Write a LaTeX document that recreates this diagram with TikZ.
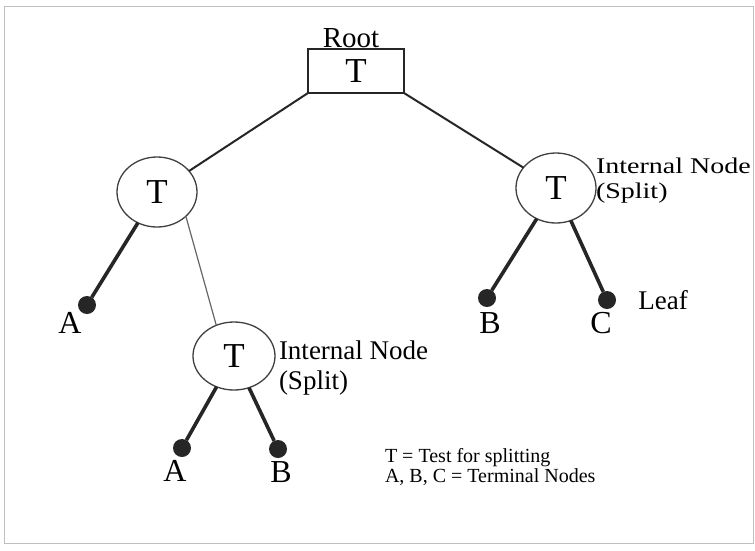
\documentclass[tikz,border=0pt]{standalone}
\usepackage{fontspec}
\usepackage{graphicx}
\setmainfont{Liberation Serif}
\usetikzlibrary{shapes.geometric}
\begin{document}
\begin{tikzpicture}[x=1pt,y=-1pt,
  every node/.style={inner sep=0pt, outer sep=0pt},
  testnode/.style={ellipse, draw=black!75, line width=1.3pt, minimum width=80pt, minimum height=70pt,
                   font=\fontsize{35}{35}\selectfont},
  rootbox/.style={rectangle, draw=black!85, line width=1.4pt, minimum width=96pt, minimum height=44pt,
                  font=\fontsize{35}{35}\selectfont},
  leafdot/.style={circle, fill=black!85, minimum size=18pt},
  leafname/.style={font=\fontsize{32}{32}\selectfont},
  label/.style={font=\fontsize{27}{27}\selectfont, align=left, anchor=west},
  branch/.style={draw=black!85, line width=2pt},
  thickbranch/.style={draw=black!85, line width=3.6pt},
  thinbranch/.style={draw=black!60, line width=1.2pt}]

% page and frame
\fill[white] (0,0) rectangle (755,550);
\useasboundingbox (0,0) rectangle (755,550);
\draw[black!25, line width=0.8pt] (4,6) rectangle (753,543);

% root test
\node[rootbox] (root) at (356,71) {T};
\node[font=\fontsize{29}{29}\selectfont, anchor=south] (rootlbl) at (351,48) {Root};

% internal tests
\node[testnode] (L) at (157,192) {T};
\node[testnode] (R) at (556,188) {T};
\node[testnode, minimum width=82pt, minimum height=68pt] (M) at (234,356) {T};

% terminal nodes
\node[leafdot] (a1) at (87,305) {};
\node[leafdot] (b1) at (487,298) {};
\node[leafdot] (c1) at (607,300) {};
\node[leafdot] (a2) at (182,448) {};
\node[leafdot] (b2) at (278,449) {};

% branches
\draw[branch] (root.south west) -- (L);
\draw[branch] (root.south east) -- (R);
\draw[thickbranch] (L) -- (a1);
\draw[thinbranch] (L.-40) -- (M.120);
\draw[thickbranch] (R) -- (b1);
\draw[thickbranch] (R) -- (c1);
\draw[thickbranch] (M) -- (a2);
\draw[thickbranch] (M) -- (b2);

% terminal names
\node[leafname] (ta1) at (70,323) {A};
\node[leafname] (tb1) at (490,323) {B};
\node[leafname] (tc1) at (601,323) {C};
\node[leafname] (ta2) at (175,471) {A};
\node[leafname] (tb2) at (281,472) {B};
\node[font=\fontsize{27}{27}\selectfont] (leaf) at (663,300) {Leaf};

% annotations
\node[label] (rl) at (596,181) {\scalebox{1}[0.8]{\fontsize{28}{28}\selectfont Internal Node}\\[-2pt]
  \scalebox{1}[0.8]{\fontsize{28}{28}\selectfont (Split)}};
\node[label] (ml) at (279,368) {Internal Node\\[3pt](Split)};

% legend
\node[font=\fontsize{20}{20}\selectfont, align=left, anchor=west] (legend) at (385,467)
  {T = Test for splitting\\A, B, C = Terminal Nodes};
\end{tikzpicture}
\end{document}
